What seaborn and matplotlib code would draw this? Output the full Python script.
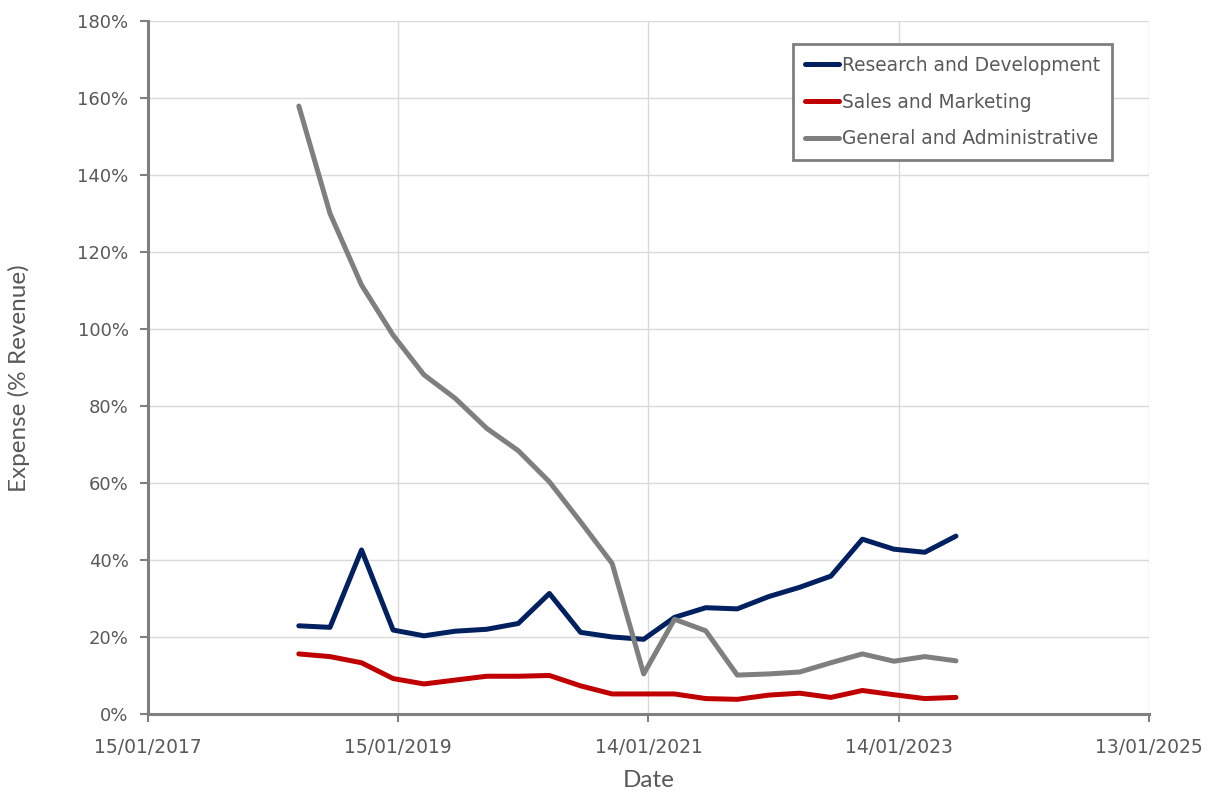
import pandas as pd
import numpy as np
import matplotlib.pyplot as plt
import matplotlib.dates as mdates
from matplotlib.ticker import PercentFormatter
import seaborn as sns

# ---- data (quarter ends, % of revenue) ----
quarters = pd.date_range("2018-03-31", "2023-06-30", freq="QE")
rnd = [22.9, 22.5, 42.6, 21.8, 20.3, 21.5, 22.0, 23.5, 31.3, 21.2, 20.0,
       19.4, 25.1, 27.6, 27.3, 30.5, 32.9, 35.8, 45.4, 42.8, 42.0, 46.2]
sales = [15.6, 14.9, 13.3, 9.2, 7.8, 8.8, 9.8, 9.8, 10.0, 7.3, 5.2,
         5.2, 5.2, 4.0, 3.8, 4.9, 5.4, 4.3, 6.1, 5.0, 4.0, 4.3]
gna = [157.9, 130.0, 111.4, 98.4, 88.1, 82.0, 74.2, 68.4, 60.3, 49.9, 39.1,
       10.4, 24.6, 21.6, 10.1, 10.4, 10.9, 13.3, 15.6, 13.7, 14.9, 13.8]
series_names = ["Research and Development", "Sales and Marketing",
                "General and Administrative"]
colors = ["#002060", "#C00000", "#7F7F7F"]
x_ticks = pd.to_datetime(["2017-01-15", "2019-01-15", "2021-01-14",
                          "2023-01-14", "2025-01-13"])

df = pd.DataFrame({"Date": quarters,
                   series_names[0]: rnd,
                   series_names[1]: sales,
                   series_names[2]: gna})
long = df.melt(id_vars="Date", var_name="Series", value_name="Expense")

sns.set_style("whitegrid", {"xtick.bottom": True, "ytick.left": True})
plt.rcParams["font.family"] = ["DejaVu Sans"]

fig = plt.figure(figsize=(12.21, 7.98), dpi=100)
ax = fig.add_axes([0.1212, 0.1053, 0.941 - 0.1212, 0.9737 - 0.1053])

sns.lineplot(data=long, x="Date", y="Expense", hue="Series",
             hue_order=series_names, palette=colors, linewidth=3.6, ax=ax)

ax.set_xlim(x_ticks[0], x_ticks[-1])
ax.set_ylim(0, 180)
ax.set_xticks(x_ticks)
ax.xaxis.set_major_formatter(mdates.DateFormatter("%d/%m/%Y"))
ax.set_yticks(np.arange(0, 181, 20))
ax.yaxis.set_major_formatter(PercentFormatter(100, decimals=0))

ax.grid(True, color="#D9D9D9", linewidth=1.0)
for side in ["top", "right"]:
    ax.spines[side].set_visible(False)
for side in ["left", "bottom"]:
    ax.spines[side].set_color("#7F7F7F")
    ax.spines[side].set_linewidth(2.2)
ax.tick_params(axis="both", bottom=True, left=True, direction="out",
               length=6, width=1.5, color="#7F7F7F", labelcolor="#595959",
               labelsize=13.5, pad=11)
ax.tick_params(axis="y", labelsize=13, pad=8)

ax.set_xlabel("Date", fontsize=17.5, color="#595959", family="Lato", labelpad=10)
ax.set_ylabel("Expense (% Revenue)", fontsize=17.5, color="#595959",
              family="Lato")
ax.yaxis.set_label_coords(-0.118, 0.485)

leg = ax.legend(loc="upper right", bbox_to_anchor=(0.963, 0.967),
                borderaxespad=0, fontsize=13.4, frameon=True, fancybox=False,
                edgecolor="#7F7F7F", handlelength=1.8, handletextpad=0.15,
                labelspacing=0.95, borderpad=0.65, title=None,
                labelcolor="#595959")
leg.get_frame().set_linewidth(2)
leg.get_frame().set_alpha(1)

fig.savefig("out.png", dpi=100)
